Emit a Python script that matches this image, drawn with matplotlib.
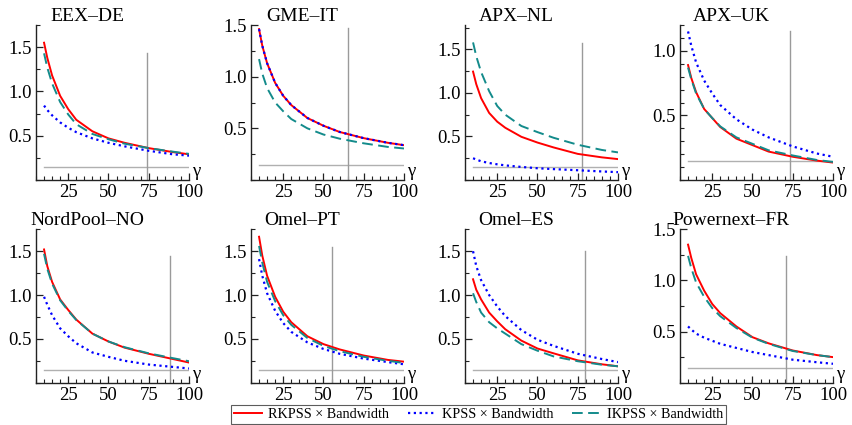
import matplotlib
matplotlib.use("Agg")
import matplotlib.pyplot as plt
from matplotlib.ticker import MultipleLocator, FormatStrFormatter

plt.rcParams['font.family'] = ['Liberation Serif', 'DejaVu Serif']

# bandwidth grid
gamma = [10, 12, 15, 20, 25, 30, 40, 50, 60, 75, 90, 100]

markets = ["EEX–DE", "GME–IT", "APX–NL", "APX–UK",
           "NordPool–NO", "Omel–PT", "Omel–ES", "Powernext–FR"]

# values, one list per market
rkpss = [
    [1.55, 1.38, 1.18, 0.95, 0.80, 0.68, 0.55, 0.47, 0.42, 0.36, 0.315, 0.29],
    [1.46, 1.30, 1.13, 0.94, 0.815, 0.725, 0.60, 0.525, 0.465, 0.405, 0.36, 0.337],
    [1.245, 1.10, 0.94, 0.77, 0.67, 0.60, 0.496, 0.43, 0.374, 0.30, 0.26, 0.24],
    [0.89, 0.79, 0.68, 0.55, 0.48, 0.41, 0.32, 0.27, 0.22, 0.18, 0.15, 0.135],
    [1.52, 1.33, 1.15, 0.95, 0.83, 0.72, 0.56, 0.47, 0.40, 0.33, 0.27, 0.23],
    [1.665, 1.45, 1.22, 0.98, 0.81, 0.69, 0.53, 0.44, 0.38, 0.31, 0.26, 0.24],
    [1.18, 1.06, 0.95, 0.80, 0.70, 0.61, 0.48, 0.39, 0.335, 0.255, 0.21, 0.187],
    [1.35, 1.22, 1.06, 0.90, 0.77, 0.68, 0.55, 0.445, 0.385, 0.315, 0.27, 0.25],
]
kpss = [
    [0.84, 0.79, 0.73, 0.65, 0.59, 0.54, 0.47, 0.42, 0.38, 0.33, 0.29, 0.275],
    [1.46, 1.30, 1.13, 0.94, 0.815, 0.725, 0.60, 0.525, 0.465, 0.405, 0.36, 0.337],
    [0.25, 0.235, 0.215, 0.195, 0.18, 0.168, 0.15, 0.135, 0.125, 0.112, 0.098, 0.09],
    [1.15, 1.04, 0.91, 0.77, 0.67, 0.58, 0.47, 0.39, 0.33, 0.26, 0.205, 0.18],
    [0.98, 0.89, 0.77, 0.62, 0.53, 0.45, 0.345, 0.295, 0.25, 0.207, 0.18, 0.162],
    [1.41, 1.22, 1.02, 0.82, 0.68, 0.58, 0.46, 0.385, 0.33, 0.275, 0.235, 0.21],
    [1.50, 1.33, 1.17, 1.00, 0.87, 0.76, 0.60, 0.49, 0.42, 0.33, 0.27, 0.235],
    [0.55, 0.52, 0.48, 0.44, 0.41, 0.38, 0.34, 0.30, 0.27, 0.225, 0.20, 0.185],
]
ikpss = [
    [1.43, 1.27, 1.09, 0.88, 0.74, 0.63, 0.52, 0.46, 0.41, 0.36, 0.32, 0.295],
    [1.17, 1.03, 0.89, 0.75, 0.665, 0.59, 0.50, 0.44, 0.40, 0.355, 0.32, 0.305],
    [1.58, 1.42, 1.24, 1.02, 0.85, 0.75, 0.62, 0.55, 0.485, 0.405, 0.345, 0.317],
    [0.87, 0.78, 0.67, 0.55, 0.48, 0.415, 0.33, 0.28, 0.23, 0.19, 0.155, 0.14],
    [1.47, 1.30, 1.13, 0.94, 0.82, 0.715, 0.56, 0.47, 0.405, 0.335, 0.28, 0.245],
    [1.56, 1.37, 1.15, 0.93, 0.77, 0.66, 0.51, 0.42, 0.36, 0.295, 0.25, 0.225],
    [1.02, 0.92, 0.80, 0.69, 0.62, 0.56, 0.44, 0.365, 0.30, 0.245, 0.205, 0.187],
    [1.24, 1.12, 0.98, 0.84, 0.73, 0.65, 0.535, 0.44, 0.38, 0.31, 0.27, 0.25],
]

# chosen bandwidth (vertical line) and its height, critical value line
vline_x = [74, 65, 77.5, 73.5, 88.5, 55, 79.5, 71]
vline_top = [1.43, 1.47, 1.57, 1.15, 1.45, 1.55, 1.5, 1.24]
crit = 0.146
ymax = [1.75, 1.5, 1.78, 1.2, 1.75, 1.75, 1.75, 1.5]

W, H = 852, 425
fig = plt.figure(figsize=(W / 100, H / 100), dpi=100)

lefts = [36, 251, 465, 680]
bottoms = [180, 382.7]
tops = [25, 229.3]
pw = 153

lines = []
for i, name in enumerate(markets):
    r, c = divmod(i, 4)
    l = lefts[c]
    b = bottoms[r]
    t = tops[r]
    ax = fig.add_axes([l / W, (H - b) / H, pw / W, (b - t) / H])

    ax.plot([gamma[0], gamma[-1]], [crit, crit], color="#b0b0b0", lw=1.0)
    ax.plot([vline_x[i], vline_x[i]], [0, vline_top[i]], color="#9a9a9a", lw=1.0)
    l1, = ax.plot(gamma, rkpss[i], color="#ff0000", lw=1.4)
    l2, = ax.plot(gamma, kpss[i], color="#0000ff", lw=1.6, ls=(0, (1, 1.6)))
    l3, = ax.plot(gamma, ikpss[i], color="#138b8b", lw=1.4, ls=(0, (5.5, 2.8)))
    lines = [l1, l2, l3]

    ax.set_xlim(5, 100)
    ax.set_ylim(0, ymax[i])
    for s in ["top", "right"]:
        ax.spines[s].set_visible(False)
    for s in ["left", "bottom"]:
        ax.spines[s].set_linewidth(1.0)
        ax.spines[s].set_color("#222222")

    ax.xaxis.set_minor_locator(MultipleLocator(5))
    ax.set_xticks([25, 50, 75, 100])
    ax.yaxis.set_minor_locator(MultipleLocator(0.25 if ymax[i] > 1.3 else 0.1))
    ax.yaxis.set_major_formatter(FormatStrFormatter('%.1f'))
    ax.set_yticks([v for v in [0.5, 1.0, 1.5] if v <= ymax[i]])
    ax.tick_params(which="both", direction="in", top=False, right=False,
                   labelsize=13.5, color="#222222")
    ax.tick_params(which="major", length=5, width=0.9)
    ax.tick_params(which="minor", length=3, width=0.8)
    ax.tick_params(axis="x", pad=3)
    ax.tick_params(axis="y", pad=3)

    ax.text(0.333, 1.0 + 4 / (b - t), name, transform=ax.transAxes,
            ha="center", va="baseline", fontsize=14)
    ax.annotate("γ", xy=(1, 0), xycoords="axes fraction", xytext=(2, 6),
                textcoords="offset points", ha="left", va="center", fontsize=13.5)

labels = ["RKPSS × Bandwidth", "KPSS × Bandwidth", "IKPSS × Bandwidth"]
leg = fig.legend(lines, labels, loc="lower center", ncol=3,
                 bbox_to_anchor=(478.5 / W, 1 / H), fontsize=10.2, frameon=True,
                 fancybox=False, handlelength=2.0, columnspacing=1.3,
                 handletextpad=0.45, borderpad=0.2, borderaxespad=0)
leg.get_frame().set_edgecolor("#333333")
leg.get_frame().set_linewidth(0.8)

fig.savefig("out.png", dpi=100)
